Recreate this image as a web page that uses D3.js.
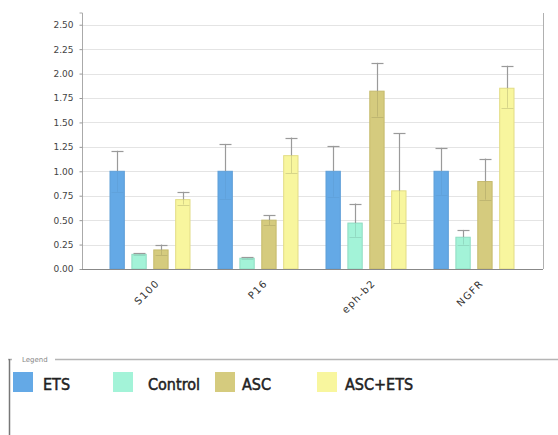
<!DOCTYPE html>
<html><head><meta charset="utf-8">
<script src="https://cdn.jsdelivr.net/npm/d3@7"></script>
<style>body{margin:0;background:#fff}svg{display:block}</style>
</head><body>
<script>
const categories = ["S100", "P16", "eph-b2", "NGFR"];
const seriesNames = ["ETS", "Control", "ASC", "ASC+ETS"];
const ETS      = [1.00, 1.00, 1.00, 1.00];
const Control  = [0.15, 0.11, 0.47, 0.325];
const ASC      = [0.195, 0.50, 1.82, 0.895];
const ASCETS   = [0.71, 1.16, 0.80, 1.85];
const errHighETS = [1.21, 1.28, 1.26, 1.24];
const errHighControl = [0.16, 0.12, 0.67, 0.40];
const errHighASC = [0.25, 0.55, 2.11, 1.13];
const errHighASCETS = [0.79, 1.345, 1.39, 2.08];
const errLowETS = [0.79, 0.72, 0.74, 0.76];
const errLowControl = [0.14, 0.10, 0.33, 0.25];
const errLowASC = [0.14, 0.45, 1.56, 0.71];
const errLowASCETS = [0.66, 0.98, 0.47, 1.65];
const yTicks = [0, 0.25, 0.5, 0.75, 1.0, 1.25, 1.5, 1.75, 2.0, 2.25, 2.5];

const values = [ETS, Control, ASC, ASCETS];
const hi = [errHighETS, errHighControl, errHighASC, errHighASCETS];
const lo = [errLowETS, errLowControl, errLowASC, errLowASCETS];
const fills = ["#64a9e6", "#a3f3d8", "#d5cb7e", "#f8f69e"];
const strokes = ["#5f9fd8", "#8fdcc2", "#c5bb6c", "#e2dc86"];
const innerDark = [0.12, 0.3, 0.3, 0.4];

const W = 558, H = 435;
const svg = d3.select("body").append("svg").attr("width", W).attr("height", H);

const plotL = 82, plotR = 543, plotT = 13, plotB = 269;
const y = d3.scaleLinear().domain([0, 2.62]).range([plotB, plotT]);
const x0 = d3.scaleBand().domain(categories).range([96, 528]).paddingInner(0.25).paddingOuter(0.125);
const x1 = d3.scaleBand().domain(seriesNames).range([0, x0.bandwidth()]).paddingInner(0.3);

// grid
svg.append("g").selectAll("line").data(yTicks.slice(1)).join("line")
  .attr("x1", plotL).attr("x2", plotR)
  .attr("y1", d => Math.round(y(d)) + 0.5).attr("y2", d => Math.round(y(d)) + 0.5)
  .attr("stroke", "#e4e4e4").attr("stroke-width", 1);

// right border
svg.append("line").attr("x1", plotR + 0.5).attr("x2", plotR + 0.5).attr("y1", plotT).attr("y2", plotB)
  .attr("stroke", "#b0b0b0");

// bars
const rows = [];
categories.forEach((c, i) => seriesNames.forEach((s, j) => rows.push({c, s, j, v: values[j][i], hi: hi[j][i], lo: lo[j][i]})));

const g = svg.append("g");
g.selectAll("rect").data(rows).join("rect")
  .attr("x", d => x0(d.c) + x1(d.s) + 0.5)
  .attr("y", d => y(d.v))
  .attr("width", x1.bandwidth() - 1)
  .attr("height", d => y(0) - y(d.v))
  .attr("fill", d => fills[d.j])
  .attr("stroke", d => strokes[d.j]).attr("stroke-width", 1);

// error bars
const eb = svg.append("g");
rows.forEach(d => {
  const cx = Math.round(x0(d.c) + x1(d.s) + x1.bandwidth() / 2) + 0.5;
  const hw = 6;
  const inner = d3.color(fills[d.j]).darker(innerDark[d.j]).formatHex();
  eb.append("line").attr("x1", cx).attr("x2", cx).attr("y1", y(d.v)).attr("y2", y(d.hi))
    .attr("stroke", "#9a9a9a").attr("stroke-width", 1.2);
  eb.append("line").attr("x1", cx - hw).attr("x2", cx + hw).attr("y1", Math.round(y(d.hi)) + 0.5).attr("y2", Math.round(y(d.hi)) + 0.5)
    .attr("stroke", "#9a9a9a").attr("stroke-width", 1.2);
  eb.append("line").attr("x1", cx).attr("x2", cx).attr("y1", y(d.v)).attr("y2", y(d.lo))
    .attr("stroke", inner);
  eb.append("line").attr("x1", cx - hw).attr("x2", cx + hw).attr("y1", Math.round(y(d.lo)) + 0.5).attr("y2", Math.round(y(d.lo)) + 0.5)
    .attr("stroke", inner);
});

// y axis
const yAxis = d3.axisLeft(y).tickValues(yTicks).tickFormat(d3.format(".2f")).tickSize(3).tickPadding(6);
const ya = svg.append("g").attr("transform", `translate(${plotL + 0.5},0)`).call(yAxis);
ya.select(".domain").attr("stroke", "#aaa").attr("d", `M-3,${plotT}H0V${plotB}`);
ya.selectAll(".tick line").attr("stroke", "#999");
ya.selectAll(".tick text").attr("fill", "#444").style("font", "9px 'DejaVu Sans'");

// x axis
svg.append("line").attr("x1", plotL).attr("x2", plotR).attr("y1", plotB + 0.5).attr("y2", plotB + 0.5).attr("stroke", "#888");
const xAxis = d3.axisBottom(x0).tickSize(0).tickPadding(0);
const xa = svg.append("g").attr("transform", `translate(0,${plotB})`).call(xAxis);
xa.select(".domain").remove();
xa.selectAll(".tick text")
  .attr("fill", "#333").style("font", "10px 'DejaVu Sans'").style("letter-spacing", "1.2px")
  .attr("text-anchor", "end").attr("dy", 0)
  .attr("transform", "translate(10,15) rotate(-45)");

// legend
const lg = svg.append("g");
lg.append("path").attr("d", `M8,359.5H12M55,359.5H${W}`).attr("stroke", "#b5b5b5").attr("stroke-width", 1.5).attr("fill", "none");
lg.append("line").attr("x1", 9.5).attr("x2", 9.5).attr("y1", 359).attr("y2", H).attr("stroke", "#777").attr("stroke-width", 1.5);
lg.append("text").attr("x", 22).attr("y", 362).text("Legend").attr("fill", "#888").style("font", "7px 'DejaVu Sans'");
const legX = [13, 113, 215, 317];
const legTX = [43, 148, 242, 345];
seriesNames.forEach((s, j) => {
  lg.append("rect").attr("x", legX[j]).attr("y", 372).attr("width", 20).attr("height", 20).attr("fill", fills[j]);
  lg.append("text").attr("x", legTX[j]).attr("y", 389.5).text(s).attr("fill", "#222")
    .attr("stroke", "#222").attr("stroke-width", 0.5)
    .style("font", "16px 'DejaVu Sans Condensed'");
});
</script>
</body></html>
